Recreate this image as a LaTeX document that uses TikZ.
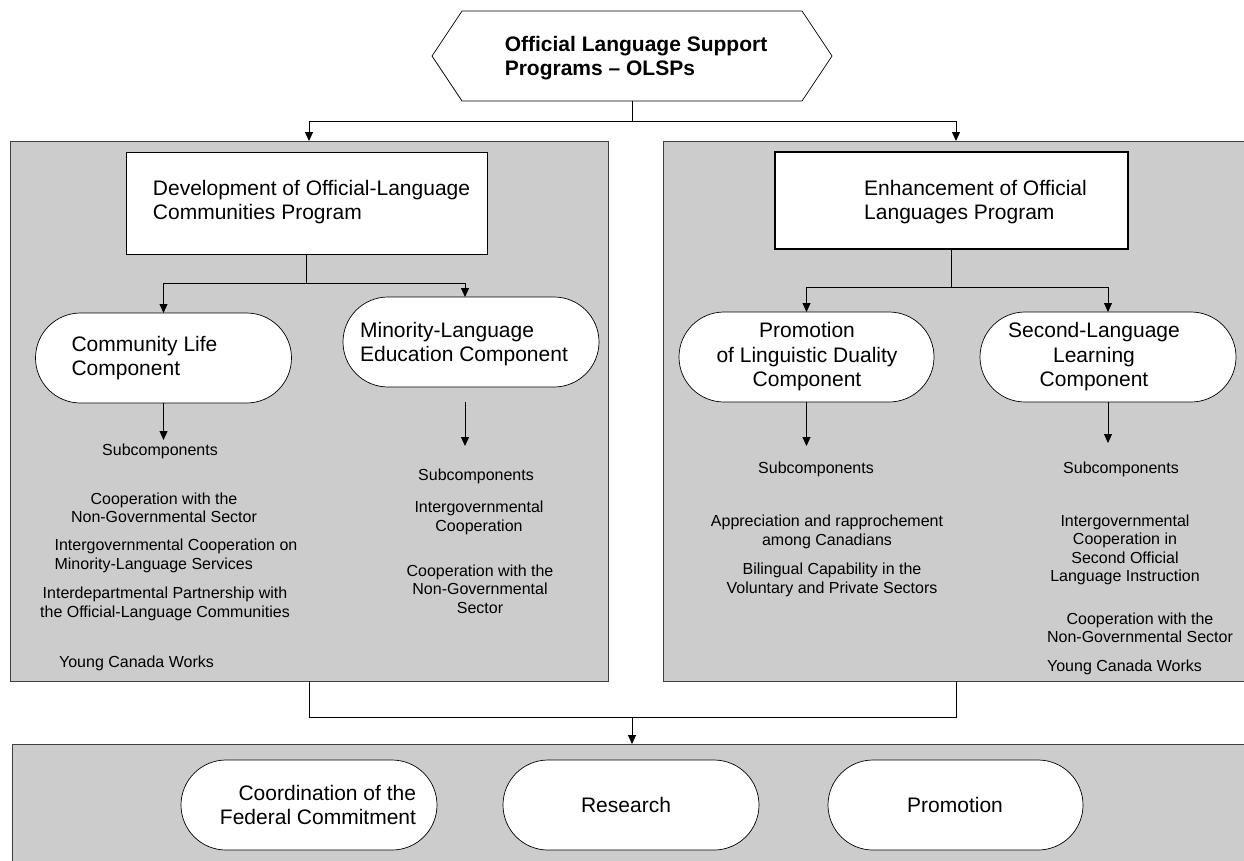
\documentclass[tikz,border=0pt]{standalone}
\usepackage{fontspec}
\setmainfont{Liberation Sans}
\usetikzlibrary{arrows.meta,calc}
\definecolor{panelgray}{HTML}{CCCCCC}
\definecolor{edgegray}{HTML}{404040}

\begin{document}
\begin{tikzpicture}[x=1pt, y=-1pt,
		panel/.style={draw=edgegray, fill=panelgray, line width=0.9pt, inner sep=0, outer sep=0},
		progbox/.style={draw=black, fill=white, line width=0.8pt, inner sep=0, outer sep=0},
		termbox/.style={draw=black, fill=white, line width=0.7pt, rounded corners=45pt, minimum width=256, minimum height=90, inner sep=0, outer sep=0},
		bigtxt/.style={font=\fontsize{21}{24.5}\selectfont, align=left, inner sep=0},
		smalltxt/.style={font=\fontsize{16}{18.3}\selectfont, align=center, inner sep=0},
		link/.style={draw=black, line width=0.8pt},
		arr/.style={link, -{Triangle[length=9pt,width=8pt]}}]
		%%%%% START %%%%%
		
		\clip (0,0) rectangle (1244,860);
		\fill[white] (0,0) rectangle (1244,860);
		
		\node[panel, minimum width=598, minimum height=540] (lpanel) at (309,411) {};
		\node[panel, minimum width=586, minimum height=540] (rpanel) at (956,411) {};
		\node[panel, minimum width=1240, minimum height=136] (bpanel) at (632,812) {};
		
		\node[minimum width=400, minimum height=90, inner sep=0, outer sep=0] (olsp) at (632,56) {};
		\draw[line width=0.7pt] (olsp.west) -- ([xshift=30pt]olsp.north west) -- ([xshift=-30pt]olsp.north east) -- (olsp.east) -- ([xshift=-30pt]olsp.south east) -- ([xshift=30pt]olsp.south west) -- cycle;
		\node[bigtxt, font=\fontsize{21}{24.5}\selectfont\bfseries] (olsptxt) at (636,58) {Official Language Support\\Programs – OLSPs};
		
		\node[progbox, minimum width=361, minimum height=102] (dev) at (306.5,203) {};
		\node[bigtxt] (devtxt) at (311.5,202) {Development of Official-Language\\Communities Program};
		\node[progbox, line width=2pt, minimum width=353, minimum height=97] (enh) at (951.5,200.5) {};
		\node[bigtxt] (enhtxt) at (975.5,202) {Enhancement of Official\\Languages Program};
		
		\node[termbox] (comm) at (163.5,358) {};
		\node[bigtxt] (commtxt) at (144.5,358) {Community Life\\Component};
		\node[termbox] (mino) at (471,342) {};
		\node[bigtxt] (minotxt) at (464,344) {Minority-Language\\Education Component};
		\node[termbox, minimum width=255] (prom) at (806.5,357) {};
		\node[bigtxt, align=center] (promtxt) at (807,357) {Promotion\\of Linguistic Duality\\Component};
		\node[termbox] (secl) at (1108,357) {};
		\node[bigtxt, align=center] (secltxt) at (1094,357) {Second-Language\\Learning\\Component};
		
		\node[smalltxt] (csub) at (160,451) {Subcomponents};
		\node[smalltxt] (csub1) at (164,508) {Cooperation with the\\Non-Governmental Sector};
		\node[smalltxt, align=left] (csub2) at (176,556) {Intergovernmental Cooperation on\\Minority-Language Services};
		\node[smalltxt] (csub3) at (165,604) {Interdepartmental Partnership with\\the Official-Language Communities};
		\node[smalltxt] (csub4) at (136.5,663) {Young Canada Works};
		
		\node[smalltxt] (msub) at (476,476) {Subcomponents};
		\node[smalltxt] (msub1) at (479,518) {Intergovernmental\\Cooperation};
		\node[smalltxt] (msub2) at (480,589) {Cooperation with the\\Non-Governmental\\Sector};
		
		\node[smalltxt] (psub) at (816,469) {Subcomponents};
		\node[smalltxt] (psub1) at (827,532) {Appreciation and rapprochement\\among Canadians};
		\node[smalltxt] (psub2) at (832,580) {Bilingual Capability in the\\Voluntary and Private Sectors};
		
		\node[smalltxt] (ssub) at (1121,469) {Subcomponents};
		\node[smalltxt] (ssub1) at (1125,550) {Intergovernmental\\Cooperation in\\Second Official\\Language Instruction};
		\node[smalltxt] (ssub2) at (1140,628) {Cooperation with the\\Non-Governmental Sector};
		\node[smalltxt] (ssub3) at (1124.5,667) {Young Canada Works};
		
		\node[termbox] (coord) at (309,805) {};
		\node[bigtxt, align=right] (coordtxt) at (318,805) {Coordination of the\\Federal Commitment};
		\node[termbox] (res) at (631,805) {};
		\node[bigtxt] (restxt) at (626,805) {Research};
		\node[termbox, minimum width=255] (promo) at (955.5,805) {};
		\node[bigtxt] (promotxt) at (955,805) {Promotion};
		
		\draw[link] (olsp.south) -- ++(0,20) coordinate (split);
		\draw[arr] (split) -| (lpanel.north);
		\draw[arr] (split) -| (rpanel.north);
		
		\draw[link] (dev.south) -- ++(0,29) coordinate (devsplit);
		\draw[arr] (devsplit) -| (comm.north);
		\draw[arr] (devsplit) -| ([xshift=-6pt]mino.north);
		
		\draw[link] (enh.south) -- ++(0,38) coordinate (enhsplit);
		\draw[arr] (enhsplit) -| (prom.north);
		\draw[arr] (enhsplit) -| (secl.north);
		
		\coordinate (ctip) at (163.5,440);
		\coordinate (mtop) at (465,402);
		\coordinate (mtip) at (465,446);
		\coordinate (ptip) at (806.5,446);
		\coordinate (stip) at (1108,443);
		\draw[arr] (comm.south) -- (ctip);
		\draw[arr] (mtop) -- (mtip);
		\draw[arr] (prom.south) -- (ptip);
		\draw[arr] (secl.south) -- (stip);
		
		\draw[link] (lpanel.south) -- ++(0,36) -| (rpanel.south);
		\coordinate (join) at (632,717);
		\draw[arr] (join) -- (bpanel.north);
		
		%%%%% END %%%%%
\end{tikzpicture}
\end{document}
